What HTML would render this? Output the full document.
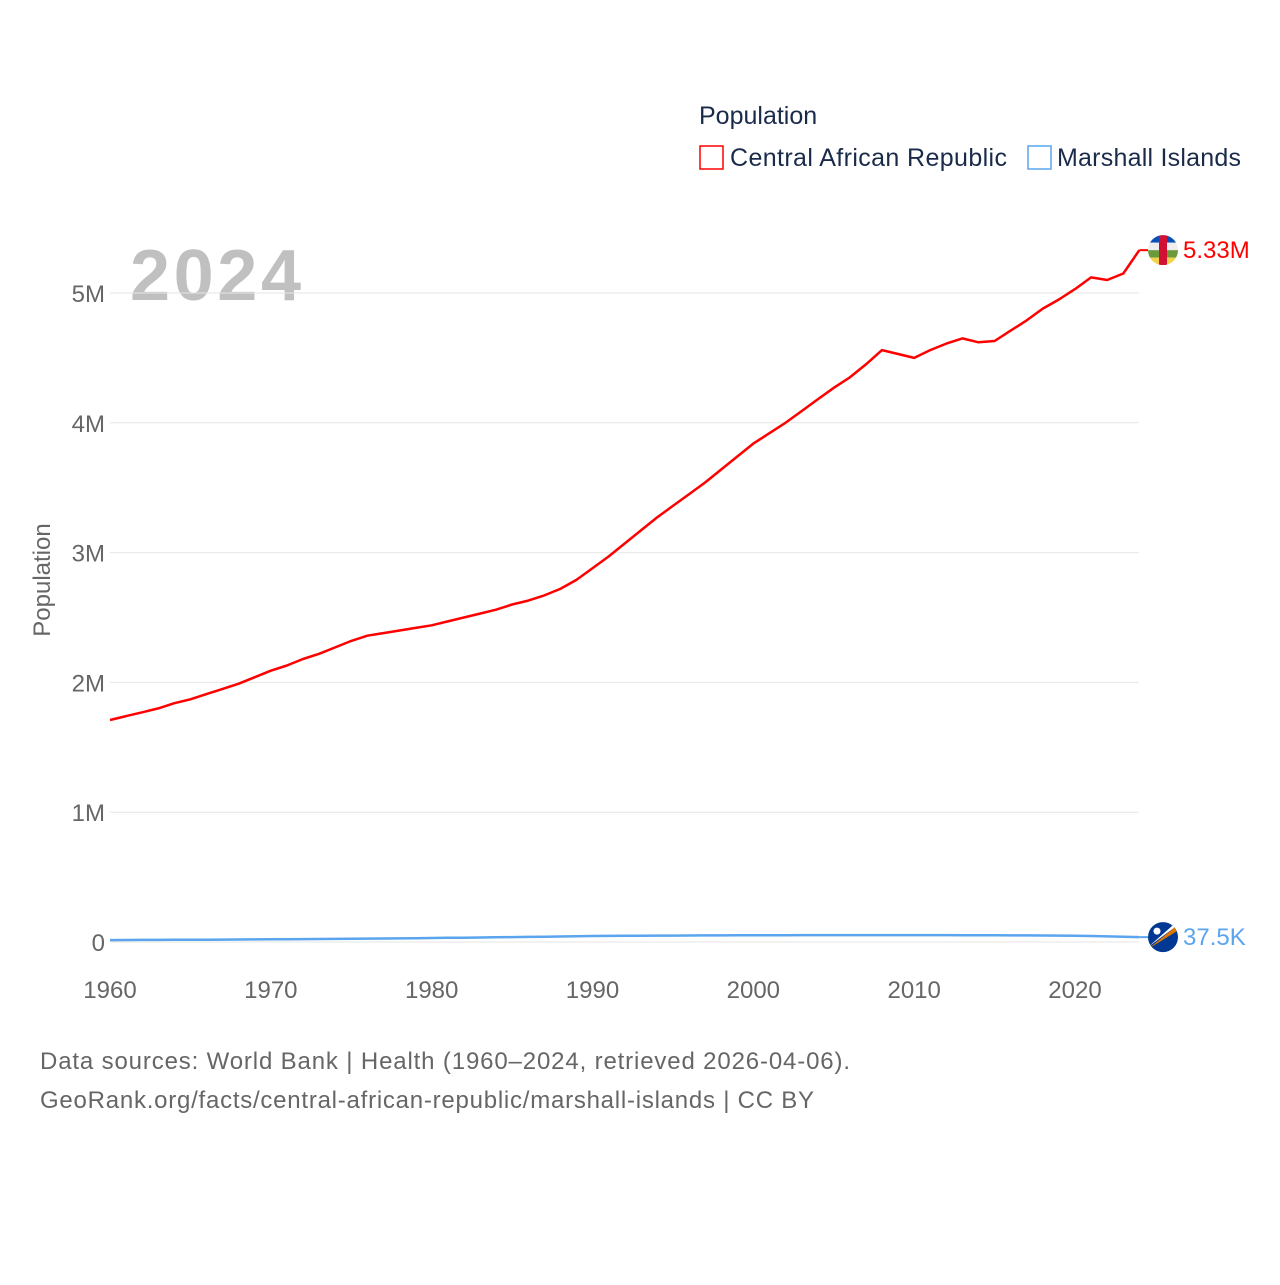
<!DOCTYPE html>
<html><head><meta charset="utf-8"><style>
body{margin:0;background:#fff;font-family:"Liberation Sans",sans-serif}
svg text{font-family:"Liberation Sans",sans-serif}
</style></head><body>
<svg id="c" width="1280" height="1280" xmlns="http://www.w3.org/2000/svg">
<rect width="1280" height="1280" fill="#fff"/>
<text x="699" y="124" font-size="25" fill="#1a2b4a">Population</text>
<g><rect x="700" y="146" width="23" height="23" fill="none" stroke="#f00" stroke-width="1.5"/><text x="730" y="166" font-size="25" fill="#1a2b4a" textLength="277">Central African Republic</text></g>
<g><rect x="1028" y="146" width="23" height="23" fill="none" stroke="#5aa5ee" stroke-width="1.5"/><text x="1057" y="166" font-size="25" fill="#1a2b4a" textLength="184">Marshall Islands</text></g>
<text x="130" y="300" font-size="72" font-weight="bold" fill="#c0c0c0" textLength="171">2024</text>
<text transform="translate(50,580) rotate(-90)" text-anchor="middle" font-size="24" fill="#666">Population</text>
<g id="grid"></g><g id="ticks"></g><g id="lines"></g>
<text x="40" y="1069" font-size="24" fill="#666" textLength="810">Data sources: World Bank | Health (1960–2024, retrieved 2026-04-06).</text>
<text x="40" y="1108" font-size="24" fill="#666" textLength="774">GeoRank.org/facts/central-african-republic/marshall-islands | CC BY</text>
</svg>
<script>
const years=[];for(let y=1960;y<=2024;y++)years.push(y);
const carValues=[1.71,1.74,1.77,1.80,1.84,1.87,1.91,1.95,1.99,2.04,2.09,2.13,2.18,2.22,2.27,2.32,2.36,2.38,2.40,2.42,2.44,2.47,2.50,2.53,2.56,2.60,2.63,2.67,2.72,2.79,2.88,2.97,3.07,3.17,3.27,3.36,3.45,3.54,3.64,3.74,3.84,3.92,4.00,4.09,4.18,4.27,4.35,4.45,4.56,4.53,4.50,4.56,4.61,4.65,4.62,4.63,4.71,4.79,4.88,4.95,5.03,5.12,5.10,5.15,5.33].map(v=>v*1e6);
const mhlValues=[15,15.5,16,16.5,17,17.5,18,18.7,19.5,20.3,21,21.8,22.5,23.3,24,25,26,27,28,29,30.5,32,33.5,35,36.5,38,39.5,41,42.5,44,46,47,48,48.5,49,49.5,50,50.5,51,51.5,52,52.3,52.6,52.8,53,53,53,53,53,53,53,53,53,52.5,52,51.5,51,50.5,50,49,48,46,43,40,37.5].map(v=>v*1e3);
const yTicks=[0,1e6,2e6,3e6,4e6,5e6];
const yTickLabels=["0","1M","2M","3M","4M","5M"];
const xTicks=[1960,1970,1980,1990,2000,2010,2020];
const NS="http://www.w3.org/2000/svg";
const X=y=>110+(y-1960)*(965/60);
const Y=v=>942-v/1e6*129.8;
function mk(tag,attrs,parent){const e=document.createElementNS(NS,tag);for(const k in attrs)e.setAttribute(k,attrs[k]);document.getElementById(parent).appendChild(e);return e;}
yTicks.forEach((t,i)=>{
 const g=mk('line',{x1:110,x2:1139,y1:Y(t),y2:Y(t),stroke:'#e6e6e6','stroke-width':1},'grid');
 
 
 const tx=mk('text',{x:105,y:Y(t)+9,'text-anchor':'end','font-size':24,fill:'#666'},'ticks');tx.textContent=yTickLabels[i];
 
 
});
xTicks.forEach(t=>{
 const tx=mk('text',{x:X(t),y:998,'text-anchor':'middle','font-size':24,fill:'#666'},'ticks');tx.textContent=t;
 
 
});
function series(vals,color,name){
 const d=vals.map((v,i)=>(i?'L':'M')+X(years[i]).toFixed(1)+','+Y(v).toFixed(1)).join('');
 const p=mk('path',{d:d,fill:'none',stroke:color,'stroke-width':2.5,'stroke-linejoin':'round'},'lines');
 
 
}
series(mhlValues,'#5aa5ee','line-marshall-islands');
series(carValues,'#f00','line-central-african-republic');
const last=years.length-1;
const cy=Y(carValues[last]), my=Y(mhlValues[last]);
mk('line',{x1:X(2024),x2:1148,y1:cy,y2:cy,stroke:'#f00','stroke-width':2},'lines');
mk('line',{x1:X(2024),x2:1148,y1:my,y2:my,stroke:'#5aa5ee','stroke-width':2},'lines');
const fl=mk('g',{},'lines');


const cx=1163;
[['#0a4fb5',-15],['#eee',-7.5],['#6b9a3a',0],['#f3d248',7.5]].forEach(([c,o])=>{const r=document.createElementNS(NS,'rect');r.setAttribute('x',cx-15);r.setAttribute('y',cy+o);r.setAttribute('width',30);r.setAttribute('height',7.5);r.setAttribute('fill',c);r.setAttribute('clip-path','url(#cc)');fl.appendChild(r);});
const dfs=document.createElementNS(NS,'defs');dfs.innerHTML='<clipPath id="cc"><circle cx="'+cx+'" cy="'+cy+'" r="15"/></clipPath><clipPath id="mc"><circle cx="'+cx+'" cy="'+my+'" r="15"/></clipPath>';document.getElementById('c').appendChild(dfs);
const rr=document.createElementNS(NS,'rect');rr.setAttribute('x',cx-4);rr.setAttribute('y',cy-15);rr.setAttribute('width',8);rr.setAttribute('height',30);rr.setAttribute('fill','#d21034');rr.setAttribute('clip-path','url(#cc)');fl.appendChild(rr);
const mf=mk('g',{},'lines');


mf.innerHTML='<circle cx="'+cx+'" cy="'+my+'" r="15" fill="#003893"/><path d="M'+(cx-15)+','+(my+12)+' L'+(cx+12)+','+(my-10)+' L'+(cx+14)+','+(my-6)+'Z" fill="#dd7500" clip-path="url(#mc)"/><path d="M'+(cx-15)+','+(my+10)+' L'+(cx+10)+','+(my-12)+' L'+(cx+12)+','+(my-10)+'Z" fill="#fff" clip-path="url(#mc)"/><circle cx="'+(cx-6)+'" cy="'+(my-6)+'" r="3.5" fill="#fff"/>';
const l1=mk('text',{x:1183,y:cy+8,'font-size':24,fill:'#f00'},'lines');l1.textContent='5.33M';


const l2=mk('text',{x:1183,y:my+8,'font-size':24,fill:'#5aa5ee'},'lines');l2.textContent='37.5K';


</script>
</body></html>
